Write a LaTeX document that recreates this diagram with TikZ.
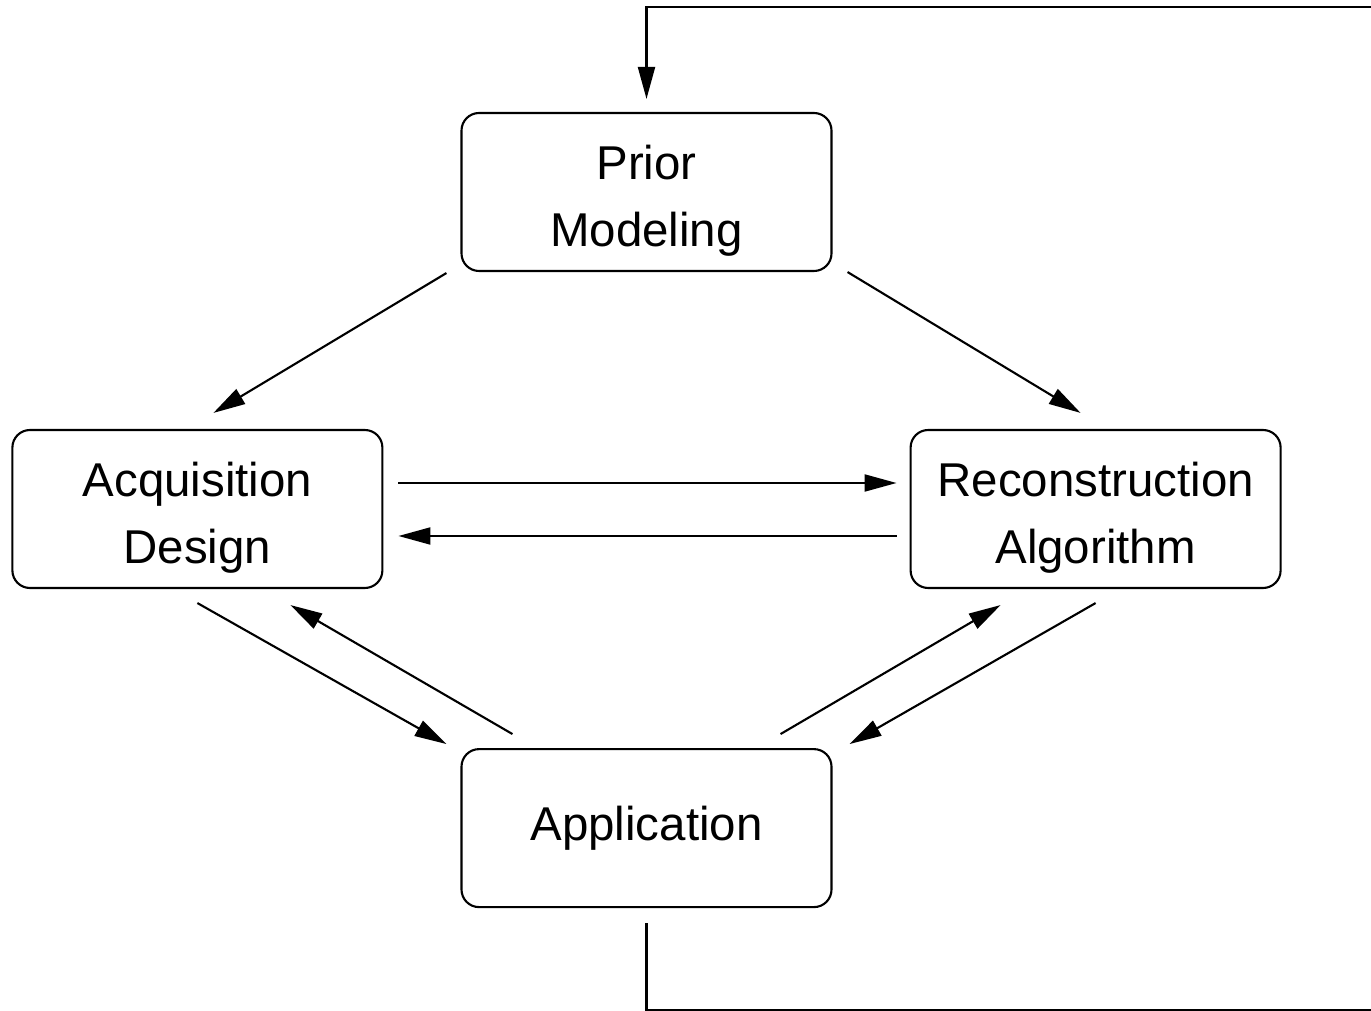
\documentclass[tikz,border=0pt]{standalone}
\usepackage{fontspec}
\setmainfont{Liberation Sans}
\usepackage{tikz}
\usetikzlibrary{arrows.meta,positioning}

\newcommand{\toprule}{\rule{0pt}{0.52cm}}

\begin{document}
\begin{tikzpicture}[
    stage/.style={rectangle, draw, line width=0.6pt, rounded corners=5pt, minimum width=3.7cm, minimum height=1.58cm, inner sep=0pt, align=center, font=\fontsize{13.5}{19}\selectfont},
    arrow/.style={-{Triangle[length=3.2mm, width=1.7mm]}, line width=0.6pt},
    loop/.style={line width=0.6pt},
]
\useasboundingbox (0,0) rectangle (13.71,10.10);
\clip (0,0) rectangle (13.71,10.10);

% === STAGES ===
\node[stage] (prior) at (6.465,8.18) {\toprule Prior\\Modeling};
\node[stage, below=4.76cm of prior] (app) {Application};
\node[stage, above left=1.59cm and 0.77cm of app] (acq) {\toprule Acquisition\\Design};
\node[stage, above right=1.59cm and 0.77cm of app] (rec) {\toprule Reconstruction\\Algorithm};

% === ARROWS ===
\draw[arrow] ([xshift=-0.14cm,yshift=-0.01cm]prior.south west) -- ([xshift=0.16cm,yshift=0.16cm]acq.north);
\draw[arrow] ([xshift=0.15cm]prior.south east) -- ([xshift=-0.15cm,yshift=0.16cm]rec.north);

\draw[arrow] ([xshift=0.15cm,yshift=0.26cm]acq.east) -- ([xshift=-0.13cm,yshift=0.26cm]rec.west);
\draw[arrow] ([xshift=-0.13cm,yshift=-0.27cm]rec.west) -- ([xshift=0.15cm,yshift=-0.27cm]acq.east);

\draw[arrow] ([yshift=-0.14cm]acq.south) -- ([xshift=-0.14cm,yshift=0.04cm]app.north west);
\draw[arrow] ([xshift=0.52cm,yshift=0.14cm]app.north west) -- ([xshift=0.93cm,yshift=-0.16cm]acq.south);
\draw[arrow] ([xshift=-0.52cm,yshift=0.14cm]app.north east) -- ([xshift=-0.95cm,yshift=-0.16cm]rec.south);
\draw[arrow] ([yshift=-0.14cm]rec.south) -- ([xshift=0.17cm,yshift=0.04cm]app.north east);

% === FEEDBACK LOOP ===
\coordinate (loopbr) at (14.2,-0.005);
\coordinate (looptr) at (14.2,10.03);
\draw[loop] ([yshift=-0.15cm]app.south) |- (loopbr) -- (looptr);
\draw[arrow] (looptr) -| ([yshift=0.13cm]prior.north);

\end{tikzpicture}
\end{document}
